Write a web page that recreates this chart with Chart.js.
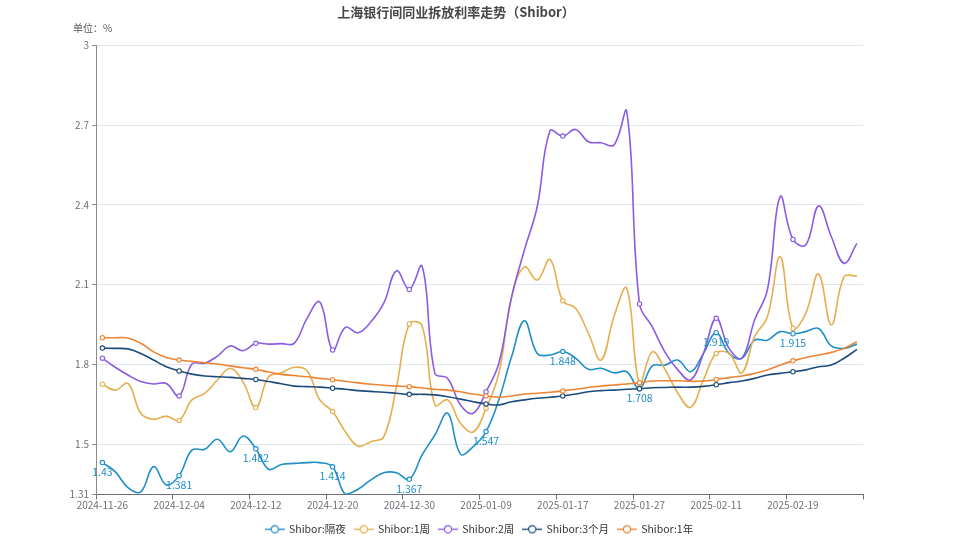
<!DOCTYPE html>
<html>
<head>
<meta charset="utf-8">
<script src="https://cdn.jsdelivr.net/npm/chart.js@4.4.1/dist/chart.umd.min.js"></script>
<style>
html,body{margin:0;padding:0;background:#fff;}
#wrap{width:959px;height:539px;position:relative;}
</style>
</head>
<body>
<div id="wrap"><canvas id="c"></canvas></div>
<script>
const titleText = '上海银行间同业拆放利率走势（Shibor）';
const unitText = '单位：%';
const seriesNames = ['Shibor:隔夜','Shibor:1周','Shibor:2周','Shibor:3个月','Shibor:1年'];
const dates = [
  '2024-11-26','2024-11-27','2024-11-28','2024-11-29','2024-12-02','2024-12-03',
  '2024-12-04','2024-12-05','2024-12-06','2024-12-09','2024-12-10','2024-12-11',
  '2024-12-12','2024-12-13','2024-12-16','2024-12-17','2024-12-18','2024-12-19',
  '2024-12-20','2024-12-23','2024-12-24','2024-12-25','2024-12-26','2024-12-27',
  '2024-12-30','2024-12-31','2025-01-02','2025-01-03','2025-01-06','2025-01-08',
  '2025-01-09','2025-01-10','2025-01-13','2025-01-14','2025-01-15','2025-01-16',
  '2025-01-17','2025-01-20','2025-01-21','2025-01-22','2025-01-23','2025-01-24',
  '2025-01-27','2025-02-05','2025-02-06','2025-02-07','2025-02-08','2025-02-10',
  '2025-02-11','2025-02-12','2025-02-13','2025-02-14','2025-02-17','2025-02-18',
  '2025-02-19','2025-02-20','2025-02-21','2025-02-24','2025-02-25','2025-02-26'
];
const overnight = [
  1.43,1.396,1.336,1.32,1.415,1.346,
  1.381,1.477,1.48,1.518,1.471,1.53,
  1.482,1.405,1.423,1.427,1.43,1.43,
  1.414,1.311,1.33,1.365,1.392,1.392,
  1.367,1.459,1.534,1.616,1.462,1.49,
  1.547,1.666,1.829,1.964,1.841,1.835,
  1.848,1.823,1.781,1.785,1.768,1.772,
  1.708,1.794,1.797,1.816,1.772,1.841,
  1.919,1.841,1.823,1.891,1.891,1.923,
  1.915,1.923,1.935,1.869,1.86,1.876
];
const week1 = [
  1.725,1.703,1.728,1.616,1.593,1.605,
  1.589,1.666,1.691,1.741,1.785,1.734,
  1.637,1.753,1.768,1.789,1.776,1.666,
  1.622,1.546,1.492,1.509,1.527,1.716,
  1.952,1.945,1.647,1.666,1.578,1.545,
  1.634,1.766,2.054,2.167,2.117,2.195,
  2.039,2.011,1.917,1.816,1.979,2.086,
  1.728,1.847,1.78,1.691,1.638,1.741,
  1.841,1.841,1.768,1.904,1.979,2.205,
  1.935,1.992,2.14,1.948,2.13,2.132
];
const week2 = [
  1.823,1.789,1.76,1.735,1.726,1.728,
  1.681,1.801,1.804,1.831,1.869,1.851,
  1.879,1.876,1.878,1.879,1.973,2.035,
  1.854,1.939,1.919,1.96,2.03,2.152,
  2.082,2.169,1.766,1.747,1.647,1.616,
  1.697,1.804,2.054,2.23,2.393,2.679,
  2.659,2.684,2.638,2.634,2.625,2.751,
  2.027,1.941,1.845,1.779,1.741,1.841,
  1.973,1.86,1.823,1.967,2.08,2.431,
  2.27,2.249,2.396,2.28,2.18,2.255
];
const month3 = [
  1.861,1.86,1.858,1.841,1.816,1.791,
  1.775,1.763,1.756,1.753,1.751,1.747,
  1.743,1.735,1.727,1.718,1.716,1.714,
  1.71,1.706,1.701,1.698,1.695,1.691,
  1.687,1.687,1.685,1.678,1.669,1.659,
  1.651,1.647,1.659,1.666,1.672,1.676,
  1.681,1.688,1.697,1.701,1.703,1.706,
  1.708,1.712,1.713,1.714,1.714,1.717,
  1.723,1.731,1.737,1.747,1.76,1.766,
  1.772,1.779,1.791,1.797,1.823,1.856
];
const year1 = [
  1.9,1.9,1.899,1.879,1.847,1.826,
  1.816,1.811,1.806,1.801,1.794,1.787,
  1.781,1.771,1.762,1.758,1.753,1.747,
  1.742,1.736,1.73,1.725,1.721,1.718,
  1.716,1.711,1.706,1.703,1.697,1.688,
  1.681,1.676,1.681,1.688,1.691,1.695,
  1.70,1.706,1.713,1.718,1.722,1.726,
  1.731,1.737,1.738,1.738,1.736,1.737,
  1.743,1.75,1.756,1.766,1.779,1.797,
  1.813,1.826,1.835,1.845,1.86,1.885
];
const yTicks = [1.31,1.5,1.8,2.1,2.4,2.7,3];
const labelEvery = 6;

const colors = ['#1f8fc8','#e5ae4f','#8a5be3','#1d4b7c','#ee8433'];
const FONT = '"Noto Sans CJK SC", "Noto Sans", sans-serif';
const allSeries = [overnight, week1, week2, month3, year1];

function legendIcon(color){
  const c = document.createElement('canvas');
  c.width = 20; c.height = 11;
  const g = c.getContext('2d');
  g.strokeStyle = color; g.lineWidth = 1.4;
  g.beginPath(); g.moveTo(0,5.5); g.lineTo(20,5.5); g.stroke();
  g.beginPath(); g.arc(10,5.5,3.6,0,Math.PI*2);
  g.fillStyle = '#fff'; g.fill(); g.lineWidth = 1.2; g.stroke();
  return c;
}
const icons = colors.map(legendIcon);

const datasets = allSeries.map((arr,i)=>({
  label: seriesNames[i],
  data: arr,
  borderColor: colors[i],
  backgroundColor: colors[i],
  borderWidth: 1.6,
  tension: 0.4,
  fill: false,
  order: 4 - i,
  pointRadius: ctx => (ctx.index % labelEvery === 0 ? 2.2 : 0),
  pointHoverRadius: 0,
  pointBackgroundColor: '#fff',
  pointBorderColor: colors[i],
  pointBorderWidth: 1.1
}));

const labelPlugin = {
  id: 'ovLabels',
  afterDatasetsDraw(chart){
    const meta = chart.getDatasetMeta(0);
    const ctx = chart.ctx;
    ctx.save();
    ctx.font = '10.5px ' + FONT;
    ctx.fillStyle = colors[0];
    ctx.textAlign = 'center';
    ctx.textBaseline = 'top';
    meta.data.forEach((pt,i)=>{
      if (i % labelEvery === 0) ctx.fillText(String(overnight[i]), pt.x, pt.y + 4);
    });
    ctx.restore();
  }
};

const titlePlugin = {
  id: 'titles',
  afterDraw(chart){
    const ctx = chart.ctx;
    ctx.save();
    ctx.font = 'bold 13px ' + FONT;
    ctx.fillStyle = '#464646';
    ctx.textAlign = 'center';
    ctx.textBaseline = 'middle';
    ctx.fillText(titleText, 456, 12);
    ctx.font = '10px ' + FONT;
    ctx.fillStyle = '#555';
    ctx.fillText(unitText, 92.5, 28);
    ctx.restore();
  }
};

new Chart(document.getElementById('c'), {
  type: 'line',
  data: { labels: dates, datasets },
  plugins: [labelPlugin, titlePlugin],
  options: {
    responsive: true,
    maintainAspectRatio: false,
    animation: false,
    layout: { padding: { left: 0, right: 0, top: 45.5, bottom: 0 } },
    plugins: {
      tooltip: { enabled: false },
      title: { display: false },
      legend: {
        position: 'bottom',
        maxHeight: 24,
        labels: {
          usePointStyle: true,
          pointStyleWidth: 18,
          boxHeight: 10,
          padding: 9,
          color: '#333',
          font: { size: 10.5, family: FONT },
          generateLabels: chart => chart.data.datasets.map((ds,i)=>({
            text: ds.label,
            pointStyle: icons[i],
            fillStyle: colors[i],
            strokeStyle: colors[i],
            lineWidth: 0,
            hidden: false,
            datasetIndex: i,
            fontColor: '#333'
          }))
        }
      }
    },
    scales: {
      x: {
        type: 'category',
        offset: true,
        grid: {
          offset: true,
          drawOnChartArea: false,
          drawTicks: true,
          tickLength: 5,
          tickWidth: 1,
          tickColor: ctx => ((ctx.index === undefined || ctx.index % labelEvery === 0) ? '#6E7079' : 'rgba(0,0,0,0)')
        },
        border: { color: '#6E7079', width: 1 },
        ticks: {
          autoSkip: false,
          maxRotation: 0,
          minRotation: 0,
          padding: 0,
          color: '#6E7079',
          font: { size: 10, family: FONT },
          callback: (v,i) => (i % labelEvery === 0 ? dates[i] : '')
        },
        afterFit: s => { s.height = 20.5; }
      },
      y: {
        type: 'linear',
        min: 1.31,
        max: 3,
        afterBuildTicks: s => { s.ticks = yTicks.map(v => ({ value: v })); },
        ticks: {
          color: '#6E7079',
          padding: 3,
          font: { size: 10, family: FONT },
          callback: v => String(v)
        },
        grid: {
          color: ctx => (ctx.tick && ctx.tick.value === 1.31 ? 'rgba(0,0,0,0)' : '#E0E6F1'),
          tickLength: 4,
          tickColor: '#8c8c8c',
          drawTicks: true
        },
        border: { color: '#8c8c8c', width: 1 },
        afterFit: s => { s.width = 96; }
      },
      yPad: {
        type: 'linear',
        position: 'right',
        display: true,
        min: 1.31,
        max: 3,
        grid: { display: false, drawTicks: false },
        border: { display: false },
        ticks: { display: false },
        afterFit: s => { s.width = 95.7; }
      }
    }
  }
});
</script>
</body>
</html>
